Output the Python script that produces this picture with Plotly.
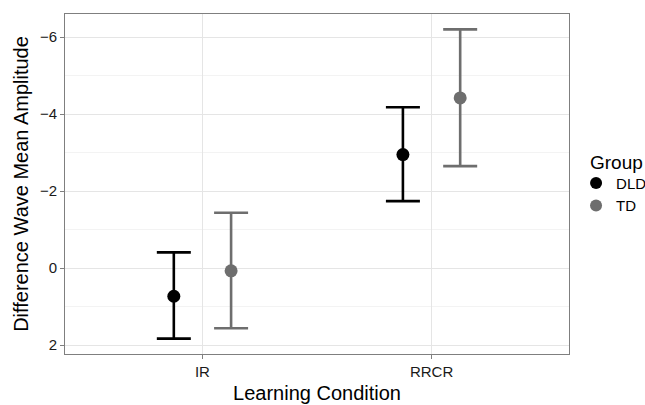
import plotly.graph_objects as go

conditions = ["IR", "RRCR"]
groups = ["DLD", "TD"]
colors = {"DLD": "#000000", "TD": "#6e6e6e"}

means = {"DLD": [0.73, -2.95], "TD": [0.07, -4.42]}
lower = {"DLD": [-0.41, -4.18], "TD": [-1.44, -6.20]}
upper = {"DLD": [1.83, -1.74], "TD": [1.56, -2.65]}

dodge = {"DLD": -0.125, "TD": 0.125}

fig = go.Figure()
for g in groups:
    xs = [i + 1 + dodge[g] for i in range(len(conditions))]
    m = means[g]
    fig.add_trace(go.Scatter(
        x=xs, y=m, mode="markers", name=g,
        marker=dict(color=colors[g], size=13, line=dict(width=0)),
        error_y=dict(type="data", symmetric=False,
                     array=[u - v for u, v in zip(upper[g], m)],
                     arrayminus=[v - l for v, l in zip(m, lower[g])],
                     color=colors[g], thickness=2.6, width=17),
    ))

font_family = "Liberation Sans, Arial, sans-serif"
fig.update_layout(
    width=645, height=405,
    margin=dict(l=65, r=76, t=14, b=51, autoexpand=False),
    plot_bgcolor="white", paper_bgcolor="white",
    font=dict(family=font_family, color="#000000"),
    legend=dict(font=dict(size=15), x=1.014, xanchor="left", y=0.47, yanchor="middle",
                itemsizing="constant", tracegroupgap=0, bgcolor="rgba(0,0,0,0)"),
    annotations=[dict(text="Group", xref="paper", yref="paper", x=1.038, y=0.562,
                      xanchor="left", yanchor="middle", showarrow=False,
                      font=dict(size=19, family=font_family, color="#000000"))],
    xaxis=dict(range=[0.4, 2.6], tickvals=[1, 2], ticktext=conditions,
               title=dict(text="Learning Condition", font=dict(size=20), standoff=6),
               tickfont=dict(size=15, color="#1a1a1a"),
               showgrid=True, gridcolor="#e5e5e5", gridwidth=1, zeroline=False,
               showline=True, linecolor="#7f7f7f", linewidth=1, mirror=True,
               ticks="outside", ticklen=4, tickcolor="#7f7f7f"),
    yaxis=dict(range=[2.23, -6.6], tickvals=[-6, -4, -2, 0, 2],
               ticktext=["\u22126", "\u22124", "\u22122", "0", "2"],
               title=dict(text="Difference Wave Mean Amplitude", font=dict(size=20), standoff=5),
               tickfont=dict(size=15, color="#1a1a1a"),
               showgrid=True, gridcolor="#e5e5e5", gridwidth=1, zeroline=False,
               minor=dict(tickvals=[-5, -3, -1, 1], showgrid=True, gridcolor="#f3f3f3", gridwidth=1),
               showline=True, linecolor="#7f7f7f", linewidth=1, mirror=True,
               ticks="outside", ticklen=4, tickcolor="#7f7f7f"),
)

fig.write_html("out.html")
